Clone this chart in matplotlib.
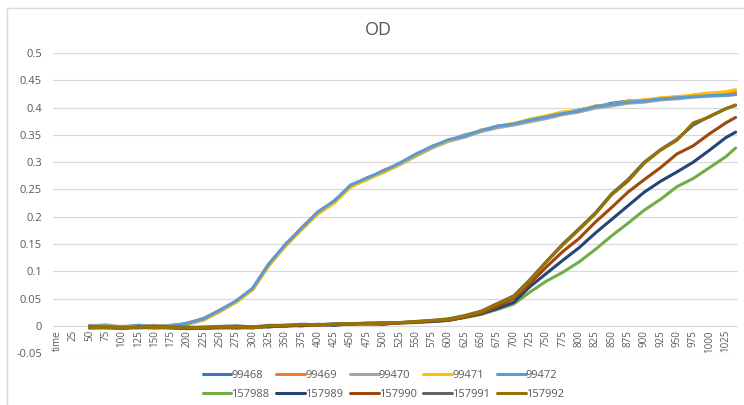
import matplotlib
matplotlib.use('Agg')
import matplotlib.pyplot as plt
from matplotlib.patches import Rectangle

plt.rcParams['font.family'] = ['Open Sans', 'DejaVu Sans']

# sample times (minutes)
times = [50, 75, 100, 125, 150, 175, 200, 225, 250, 275, 300, 325, 350, 375,
         400, 425, 450, 475, 500, 525, 550, 575, 600, 625, 650, 675, 700, 725,
         750, 775, 800, 825, 850, 875, 900, 925, 950, 975, 1000, 1025, 1040]

# category labels on the x axis
tick_pos = list(range(0, 1050, 25))
tick_labels = ['time'] + [str(t) for t in tick_pos[1:]]

s99468 = [-0.002, 0.000, -0.003, 0.001, -0.002, 0.001, 0.003, 0.011, 0.027, 0.046, 0.067,
          0.112, 0.149, 0.179, 0.207, 0.229, 0.256, 0.271, 0.282, 0.298, 0.313, 0.329,
          0.339, 0.350, 0.357, 0.366, 0.369, 0.378, 0.382, 0.389, 0.396, 0.401, 0.408,
          0.412, 0.411, 0.417, 0.417, 0.423, 0.426, 0.423, 0.425]
s99469 = [0.001, -0.001, -0.001, 0.000, 0.001, -0.002, 0.005, 0.014, 0.029, 0.044, 0.069,
          0.114, 0.147, 0.180, 0.209, 0.227, 0.258, 0.268, 0.285, 0.296, 0.312, 0.327,
          0.341, 0.347, 0.359, 0.364, 0.371, 0.376, 0.384, 0.391, 0.393, 0.403, 0.405,
          0.412, 0.414, 0.415, 0.420, 0.420, 0.425, 0.426, 0.428]
s99470 = [0.000, 0.002, -0.002, -0.001, 0.000, 0.001, 0.004, 0.012, 0.026, 0.045, 0.066,
          0.112, 0.146, 0.177, 0.206, 0.226, 0.255, 0.269, 0.281, 0.295, 0.311, 0.326,
          0.338, 0.346, 0.356, 0.363, 0.368, 0.374, 0.380, 0.387, 0.392, 0.399, 0.403,
          0.408, 0.410, 0.414, 0.416, 0.419, 0.421, 0.422, 0.424]
s99471 = [-0.001, 0.001, -0.003, 0.000, -0.001, 0.000, 0.003, 0.011, 0.027, 0.043, 0.067,
          0.110, 0.146, 0.176, 0.205, 0.225, 0.254, 0.268, 0.281, 0.296, 0.313, 0.328,
          0.339, 0.349, 0.358, 0.366, 0.371, 0.379, 0.385, 0.392, 0.395, 0.403, 0.406,
          0.411, 0.414, 0.418, 0.420, 0.423, 0.427, 0.429, 0.433]
s99472 = [0.000, 0.000, -0.002, 0.001, -0.001, 0.000, 0.005, 0.013, 0.029, 0.046, 0.069,
          0.114, 0.149, 0.179, 0.209, 0.229, 0.258, 0.271, 0.284, 0.298, 0.315, 0.329,
          0.341, 0.348, 0.358, 0.366, 0.370, 0.377, 0.383, 0.389, 0.394, 0.402, 0.406,
          0.410, 0.412, 0.416, 0.418, 0.420, 0.422, 0.423, 0.424]

s157988 = [-0.003, -0.004, -0.002, -0.004, -0.003, -0.002, -0.004, -0.003, -0.004, -0.002,
           -0.003, -0.001, 0.000, 0.001, 0.002, 0.002, 0.003, 0.003, 0.004, 0.005, 0.006,
           0.008, 0.011, 0.015, 0.021, 0.030, 0.040, 0.062, 0.082, 0.098, 0.117, 0.140,
           0.165, 0.188, 0.212, 0.232, 0.255, 0.270, 0.290, 0.310, 0.326]
s157989 = [-0.004, -0.003, -0.004, -0.003, -0.002, -0.004, -0.005, -0.004, -0.003, -0.004,
           -0.002, -0.002, 0.001, 0.000, 0.003, 0.001, 0.004, 0.004, 0.003, 0.006, 0.007,
           0.008, 0.010, 0.016, 0.022, 0.032, 0.043, 0.072, 0.096, 0.120, 0.143, 0.170,
           0.195, 0.220, 0.245, 0.265, 0.282, 0.300, 0.322, 0.345, 0.355]
s157990 = [-0.002, -0.003, -0.005, -0.002, -0.004, -0.003, -0.002, -0.005, -0.003, -0.003,
           -0.004, 0.000, -0.001, 0.002, 0.001, 0.003, 0.003, 0.005, 0.004, 0.005, 0.007,
           0.009, 0.010, 0.016, 0.023, 0.036, 0.050, 0.078, 0.108, 0.136, 0.160, 0.190,
           0.217, 0.245, 0.268, 0.290, 0.315, 0.330, 0.352, 0.372, 0.382]
s157991 = [-0.002, -0.002, -0.003, -0.003, -0.001, -0.002, -0.003, -0.002, -0.001, 0.000,
           -0.002, 0.001, 0.001, 0.003, 0.002, 0.004, 0.004, 0.005, 0.006, 0.006, 0.008,
           0.010, 0.013, 0.019, 0.027, 0.041, 0.055, 0.085, 0.118, 0.150, 0.178, 0.207,
           0.242, 0.268, 0.300, 0.323, 0.342, 0.368, 0.384, 0.398, 0.404]
s157992 = [-0.003, -0.003, -0.004, -0.002, -0.003, -0.003, -0.004, -0.003, -0.002, -0.002,
           -0.003, 0.000, 0.001, 0.002, 0.002, 0.003, 0.004, 0.004, 0.005, 0.006, 0.008,
           0.010, 0.012, 0.018, 0.026, 0.040, 0.053, 0.083, 0.117, 0.148, 0.176, 0.205,
           0.240, 0.265, 0.298, 0.322, 0.340, 0.372, 0.383, 0.398, 0.405]

names = ['99468', '99469', '99470', '99471', '99472',
         '157988', '157989', '157990', '157991', '157992']
series = [s99468, s99469, s99470, s99471, s99472,
          s157988, s157989, s157990, s157991, s157992]
colors = ['#4472C4', '#ED7D31', '#A5A5A5', '#FFC000', '#5B9BD5',
          '#70AD47', '#264478', '#9E480E', '#636363', '#997300']

text_col = '#595959'
grid_col = '#D9D9D9'

fig = plt.figure(figsize=(7.44, 4.05), dpi=100)
ax = fig.add_axes([0.0712, 0.128, 0.921, 0.741])

handles = []
for name, ys, c in zip(names, series, colors):
    h, = ax.plot(times, ys, color=c, lw=2.2, label=name, solid_capstyle='round')
    handles.append(h)

# category axis crosses at zero (must come before the tick labels are set)
ax.spines['bottom'].set_position(('data', 0))
for sp in ax.spines.values():
    sp.set_visible(False)

ax.set_ylim(-0.05, 0.5)
ax.set_xlim(-6, 1044)
yt = [-0.05 + 0.05 * i for i in range(12)]
ax.set_yticks(yt)
ax.set_yticklabels(['%g' % round(v, 2) for v in yt], fontsize=8, color=text_col)
ax.yaxis.grid(True, color=grid_col, lw=0.9)
ax.set_axisbelow(True)

ax.set_xticks(tick_pos)
ax.set_xticklabels(tick_labels, rotation=90, fontsize=7, color=text_col)
ax.tick_params(axis='both', length=0)
ax.tick_params(axis='x', pad=3)
ax.tick_params(axis='y', pad=8)

fig.text(0.508, 0.926, 'OD', ha='center', va='center', fontsize=13, color=text_col)

# legend laid out row by row: first five strains on top
order = [0, 5, 1, 6, 2, 7, 3, 8, 4, 9]
leg = fig.legend([handles[i] for i in order], [names[i] for i in order],
                 ncol=5, loc='center', bbox_to_anchor=(0.515, 0.05),
                 frameon=False, fontsize=8, handlelength=2.6, handletextpad=0.0,
                 columnspacing=0.6, labelspacing=0.7)
for t in leg.get_texts():
    t.set_color(text_col)

# chart area border
fig.patches.append(Rectangle((7 / 744, -0.1), 1.2, 1 - 8 / 405 + 0.1,
                             transform=fig.transFigure, fill=False,
                             edgecolor=grid_col, lw=1.0))

plt.savefig('out.png', dpi=100)
